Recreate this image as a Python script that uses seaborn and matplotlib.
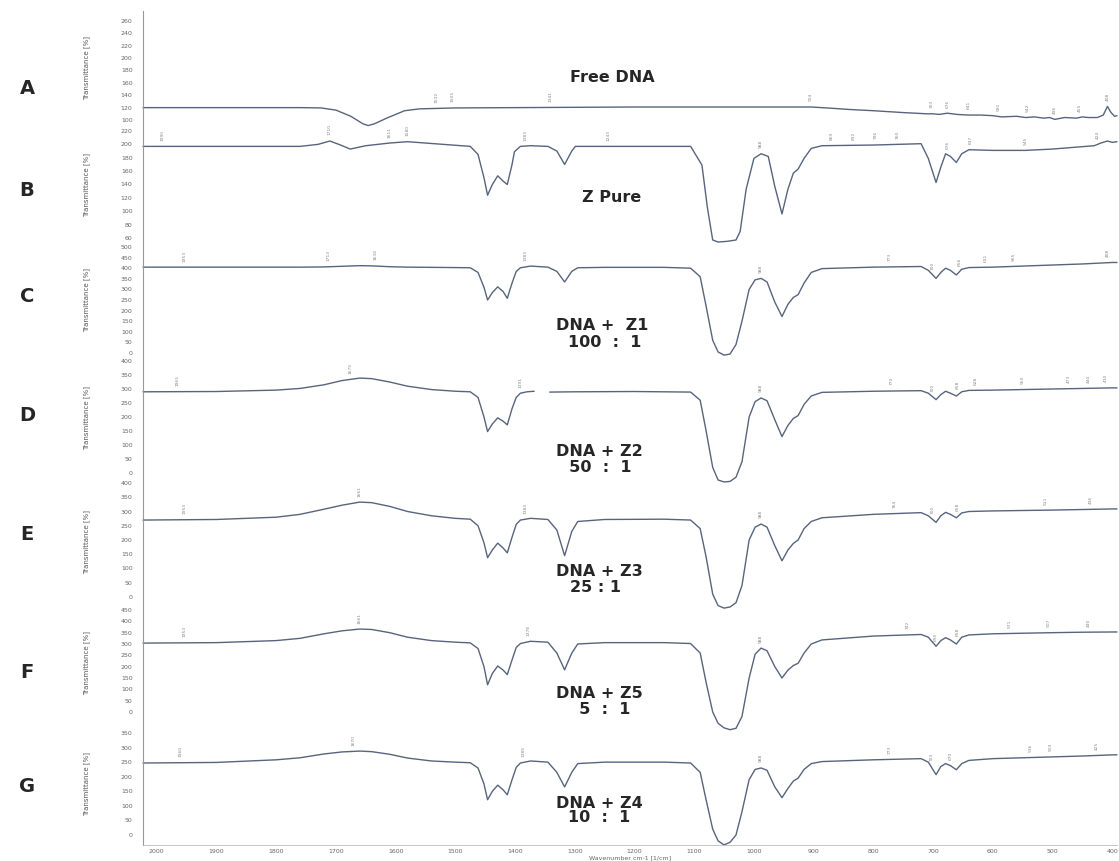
import numpy as np
import pandas as pd
import seaborn as sns
import matplotlib.pyplot as plt

# ---- spectra (wavenumber cm-1, transmittance) ----
wn_a = [2023, 1900, 1760, 1725, 1700, 1675, 1655, 1646, 1635, 1615,
        1595, 1585, 1560, 1500, 1400, 1300, 1200, 1100, 1000, 904,
        870, 840, 800, 750, 710, 700, 690, 676, 660, 641,
        620, 600, 585, 560, 545, 530, 515, 505, 496, 480,
        460, 450, 440, 425, 415, 408, 402, 396, 392]
t_a = [120, 120, 120, 119.5, 116, 106, 94, 91, 94, 103,
       111, 115, 118, 119.5, 120, 120.5, 121, 121, 121, 121,
       119, 117, 115, 112, 110, 110, 109, 111, 109, 108,
       108, 107, 105, 106, 104, 105, 103, 104, 101, 104,
       103, 105, 104, 104, 108, 122, 112, 106, 107]

wn_b = [2023, 1950, 1850, 1760, 1730, 1710, 1695, 1676, 1650, 1610,
        1580, 1520, 1475, 1462, 1452, 1446, 1438, 1429, 1420, 1413,
        1405, 1401, 1391, 1374, 1345, 1330, 1317, 1305, 1299, 1250,
        1150, 1106, 1087, 1078, 1069, 1060, 1045, 1030, 1023, 1013,
        1000, 988, 976, 965, 953, 943, 934, 926, 916, 904,
        886, 800, 720, 708, 695, 687, 679, 671, 661, 652,
        640, 600, 545, 500, 430, 419, 408, 400, 392]
t_b = [197, 197, 197, 197, 200, 205, 200, 193, 198, 202,
       204, 200, 197, 185, 150, 124, 140, 153, 145, 140,
       170, 189, 197, 198, 197, 190, 170, 190, 197, 197,
       197, 197, 169, 106, 57, 54, 55, 57, 70, 133,
       179, 186, 182, 137, 96, 133, 157, 163, 179, 194,
       198, 199, 201, 179, 143, 166, 186, 182, 173, 186,
       192, 191, 191, 193, 198, 202, 205, 203, 204]

# common wavenumber grid for the DNA + Z mixtures C, E, F, G
wn_mix = [2023, 1900, 1800, 1760, 1720, 1690, 1660, 1640, 1610, 1580,
          1540, 1500, 1475, 1462, 1452, 1446, 1438, 1429, 1420, 1413,
          1405, 1398, 1391, 1374, 1345, 1330, 1317, 1305, 1295, 1250,
          1150, 1106, 1090, 1080, 1069, 1060, 1050, 1040, 1030, 1020,
          1008, 998, 988, 978, 965, 953, 943, 934, 926, 916,
          904, 886, 800, 720, 708, 695, 687, 679, 671, 661,
          652, 640, 600, 500, 450, 400, 392]
t_c = [405, 405, 405, 405, 406, 409, 412, 411, 407, 405,
       404, 403, 402, 380, 310, 250, 285, 312, 290, 258,
       330, 385, 402, 410, 405, 385, 335, 385, 402, 404,
       404, 400, 360, 220, 60, 5, -10, -5, 40, 150,
       300, 345, 352, 335, 240, 172, 230, 262, 275, 330,
       380, 398, 405, 408, 390, 352, 380, 400, 390, 368,
       395, 403, 405, 415, 420, 427, 427]
t_e = [270, 272, 280, 290, 308, 322, 333, 331, 318, 300,
       285, 276, 273, 250, 190, 138, 165, 189, 172, 155,
       210, 255, 270, 276, 272, 235, 145, 230, 265, 272,
       273, 270, 240, 140, 10, -30, -39, -35, -20, 40,
       200, 245, 256, 245, 180, 127, 165, 188, 200, 240,
       265, 278, 290, 296, 285, 262, 285, 297, 290, 278,
       295, 300, 302, 305, 307, 309, 309]
t_f = [304, 306, 315, 325, 345, 358, 366, 364, 350, 330,
       315, 308, 305, 280, 200, 120, 170, 203, 185, 165,
       230, 285, 302, 312, 308, 260, 186, 260, 300, 306,
       306, 302, 260, 130, 0, -50, -70, -78, -72, -20,
       150, 255, 282, 270, 200, 150, 185, 205, 215, 260,
       300, 318, 335, 342, 330, 290, 315, 328, 318, 300,
       330, 340, 345, 350, 352, 353, 353]
t_g = [247, 249, 258, 265, 278, 285, 288, 286, 277, 264,
       254, 250, 248, 230, 175, 121, 150, 171, 155, 138,
       190, 232, 247, 254, 250, 215, 165, 215, 245, 250,
       250, 247, 215, 120, 20, -20, -34, -25, 0, 80,
       190, 225, 230, 222, 165, 128, 160, 185, 195, 225,
       245, 252, 258, 262, 250, 207, 235, 245, 238, 224,
       245, 256, 262, 268, 271, 275, 275]

# D has a break in the trace around 1355 cm-1
wn_d = [2023, 1900, 1800, 1760, 1720, 1690, 1660, 1640, 1610, 1580,
        1540, 1500, 1475, 1462, 1452, 1446, 1438, 1429, 1420, 1413,
        1405, 1398, 1391, 1380, 1368, 1342, 1300, 1200, 1106, 1090,
        1080, 1069, 1060, 1050, 1040, 1030, 1020, 1008, 998, 988,
        978, 965, 953, 943, 934, 926, 916, 904, 886, 800,
        720, 708, 695, 687, 679, 671, 661, 652, 640, 600,
        500, 400, 392]
t_d = [290, 291, 296, 302, 315, 330, 339, 337, 325, 310,
       298, 292, 290, 270, 200, 148, 175, 197, 185, 172,
       230, 270, 285, 290, 292, 289, 290, 291, 289, 260,
       150, 20, -25, -32, -30, -15, 40, 200, 255, 268,
       258, 190, 130, 170, 195, 205, 245, 275, 288, 292,
       294, 285, 262, 280, 292, 285, 275, 290, 295, 296,
       300, 304, 304]

# y tick labels of each panel
ticks_a = [260, 240, 220, 200, 180, 160, 140, 120, 100]
ticks_b = [220, 200, 180, 160, 140, 120, 100, 80, 60]
ticks_c = [500, 450, 400, 350, 300, 250, 200, 150, 100, 50, 0]
ticks_d = [400, 350, 300, 250, 200, 150, 100, 50, 0]
ticks_e = [400, 350, 300, 250, 200, 150, 100, 50, 0]
ticks_f = [450, 400, 350, 300, 250, 200, 150, 100, 50, 0]
ticks_g = [350, 300, 250, 200, 150, 100, 50, 0]
x_ticks = list(range(2000, 399, -100))

# peak labels written above the traces
peaks_a = [1532, 1505, 1341, 904, 703, 676, 641, 591, 542, 496, 455, 408]
peaks_b = [1990, 1710, 1611, 1580, 1383, 1243, 988, 869, 832, 796, 760, 676, 637, 545, 424]
peaks_c = [1953, 1713, 1634, 1383, 988, 773, 700, 656, 611, 565, 408]
peaks_d = [1965, 1675, 1391, 988, 770, 700, 658, 628, 550, 473, 440, 410]
peaks_e = [1953, 1661, 1383, 988, 764, 700, 658, 511, 436]
peaks_f = [1953, 1661, 1378, 988, 742, 695, 658, 571, 507, 440]
peaks_g = [1960, 1670, 1385, 988, 773, 703, 670, 536, 503, 425]

sns.set_style('white')
plt.rcParams['font.family'] = ['DejaVu Sans']

W, H = 1119, 861
fig = plt.figure(figsize=(W / 100, H / 100), dpi=100)
line_col = '#56657d'
x_left, x_right = 143, 1117

# letter, wn, T, split, ticks, peaks, axes top/bottom px, (px, val) of first and last tick,
# letter y, title lines
panels = [
    ('A', wn_a, t_a, None, ticks_a, peaks_a, 11, 126, (21, 260), (120, 100), 89,
     [('Free DNA', 570, 78)]),
    ('B', wn_b, t_b, None, ticks_b, peaks_b, 126, 244, (131, 220), (238, 60), 190,
     [('Z Pure', 582, 197)]),
    ('C', wn_mix, t_c, None, ticks_c, peaks_c, 244, 357, (247, 500), (353, 0), 296,
     [('DNA +  Z1', 556, 326), ('100  :  1', 568, 342)]),
    ('D', wn_d, t_d, 1355, ticks_d, peaks_d, 357, 479, (361, 400), (473, 0), 415,
     [('DNA + Z2', 556, 452), ('  50  :  1', 558, 468)]),
    ('E', wn_mix, t_e, None, ticks_e, peaks_e, 479, 604, (483, 400), (597, 0), 535,
     [('DNA + Z3', 556, 572), ('25 : 1', 570, 588)]),
    ('F', wn_mix, t_f, None, ticks_f, peaks_f, 604, 722, (610, 450), (712, 0), 672,
     [('DNA + Z5', 556, 694), ('  5  :  1', 568, 709)]),
    ('G', wn_mix, t_g, None, ticks_g, peaks_g, 722, 845, (733, 350), (835, 0), 786,
     [('DNA + Z4', 556, 803), ('10  :  1', 568, 818)]),
]

for letter, wn, t, split, ticks, peaks, top, bot, p0, p1, ly, titles in panels:
    k = (p0[1] - p1[1]) / (p1[0] - p0[0])
    y_top = p0[1] + (p0[0] - top) * k
    y_bot = p0[1] - (bot - p0[0]) * k
    ax = fig.add_axes([x_left / W, 1 - bot / H, (x_right - x_left) / W, (bot - top) / H])
    df = pd.DataFrame({'wn': wn, 'T': t})
    df['seg'] = 0 if split is None else (df['wn'] < split).astype(int)
    sns.lineplot(data=df, x='wn', y='T', units='seg', estimator=None, sort=False,
                 color=line_col, lw=1.0, ax=ax)
    for ln in ax.lines:
        ln.set_clip_on(False)
    ax.set_xlim(2023, 392)
    ax.set_ylim(y_bot, y_top)
    ax.set_yticks(ticks)
    ax.set_yticklabels([str(v) for v in ticks], fontsize=4.5, color='#666')
    ax.tick_params(axis='y', length=1.5, width=0.5, color='#aaa', pad=6)
    ax.set_ylabel('Transmittance [%]', fontsize=5, color='#555')
    ax.yaxis.set_label_coords((90 - x_left) / (x_right - x_left), 0.5)
    for s in ['top', 'right', 'bottom']:
        ax.spines[s].set_visible(False)
    ax.spines['left'].set_color('#999')
    ax.spines['left'].set_linewidth(0.8)
    ax.patch.set_alpha(0)
    if letter == 'G':
        ax.spines['bottom'].set_visible(True)
        ax.spines['bottom'].set_color('#bbb')
        ax.spines['bottom'].set_linewidth(0.6)
        ax.set_xticks(x_ticks)
        ax.set_xticklabels([str(v) for v in x_ticks], fontsize=4.5, color='#666')
        ax.tick_params(axis='x', length=0, pad=3)
        ax.set_xlabel('Wavenumber cm-1 [1/cm]', fontsize=4.5, color='#666', labelpad=1)
    else:
        ax.set_xticks([])
        ax.set_xlabel('')

    # peak wavenumber labels
    wr, tr = np.array(wn)[::-1], np.array(t)[::-1]
    for p in peaks:
        yv = np.interp(p, wr, tr)
        ax.annotate(str(p), (p, yv), xytext=(0, 4), textcoords='offset points',
                    rotation=90, fontsize=3.2, color='#888', ha='center', va='bottom',
                    annotation_clip=False)

    fig.text(27 / W, 1 - ly / H, letter, fontsize=14, fontweight='bold', ha='center', va='center')
    for txt, tx, ty in titles:
        fig.text(tx / W, 1 - ty / H, txt, fontsize=11.5, fontweight='bold', ha='left', va='center')

fig.savefig('out.png', dpi=100)
